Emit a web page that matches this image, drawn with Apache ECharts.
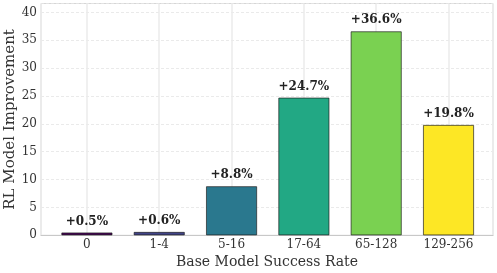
<!DOCTYPE html>
<html>
<head>
<meta charset="utf-8">
<script src="https://cdn.jsdelivr.net/npm/echarts@6/dist/echarts.min.js"></script>
<style>html,body{margin:0;padding:0;background:#fff}#c{width:497px;height:273px}</style>
</head>
<body>
<div id="c"></div>
<script>
const categories = ['0', '1-4', '5-16', '17-64', '65-128', '129-256'];
const improvements = [0.5, 0.6, 8.8, 24.7, 36.6, 19.8];
const barColors = ['#440154', '#414487', '#2a788e', '#22a884', '#7ad151', '#fde725'];
const yTicks = [0, 5, 10, 15, 20, 25, 30, 35, 40];

const font = 'DejaVu Serif';
const chart = echarts.init(document.getElementById('c'), null, {renderer: 'canvas'});
chart.setOption({
  animation: false,
  backgroundColor: '#fff',
  grid: {left: 41, right: 4, top: 3.5, bottom: 37.7, outerBoundsMode: 'none', containLabel: false, show: true, borderColor: '#d6d6d6', borderWidth: 1, backgroundColor: 'transparent'},
  xAxis: {
    type: 'value', min: -0.635, max: 5.615, minInterval: 1, maxInterval: 1,
    name: 'Base Model Success Rate', nameLocation: 'middle', nameGap: 20, nameMoveOverlap: false,
    nameTextStyle: {fontFamily: font, fontSize: 14, color: '#333'},
    axisLine: {show: true, lineStyle: {color: '#c8c8c8', width: 1}},
    axisTick: {show: false},
    axisLabel: {fontFamily: font, fontSize: 12, color: '#333', margin: 4, showMinLabel: false, showMaxLabel: false,
      formatter: v => (Math.abs(v - Math.round(v)) < 1e-6 && categories[Math.round(v)] !== undefined) ? categories[Math.round(v)] : ''},
    splitLine: {show: true, lineStyle: {color: '#ebebeb', width: 1.5}}
  },
  yAxis: {
    type: 'value', min: 0, max: 41.6, interval: 5,
    name: 'RL Model Improvement', nameLocation: 'middle', nameGap: 23, nameMoveOverlap: false,
    nameTextStyle: {fontFamily: font, fontSize: 15, color: '#333'},
    axisLine: {show: false},
    axisTick: {show: false},
    axisLabel: {fontFamily: font, fontSize: 12, color: '#333', margin: 4, showMaxLabel: false,
      formatter: v => yTicks.includes(v) ? String(v) : ''},
    splitLine: {show: true, lineStyle: {color: '#e4e4e4', width: 0.8, type: [3, 2]}}
  },
  series: [{
    type: 'bar',
    barWidth: 51,
    data: improvements.map((v, i) => ({value: [i, v], itemStyle: {color: barColors[i]}})),
    itemStyle: {borderColor: 'rgba(30,30,30,0.85)', borderWidth: 0.8},
    label: {show: true, position: 'top', distance: 5, fontFamily: font, fontWeight: 'bold', fontSize: 12, color: '#222',
      formatter: p => '+' + p.value[1].toFixed(1) + '%'}
  }]
});
</script>
</body>
</html>
